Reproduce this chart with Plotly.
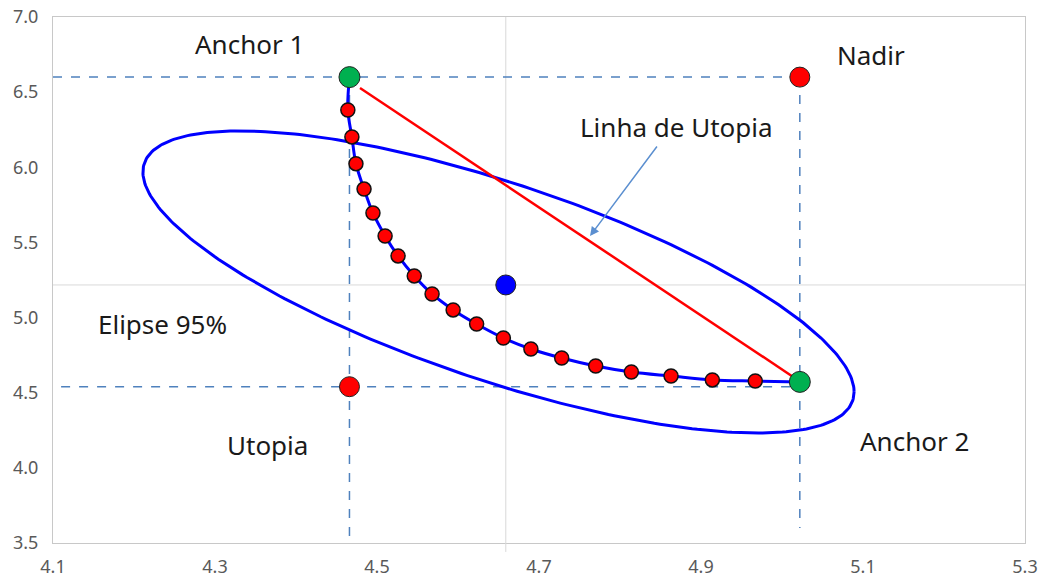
import numpy as np
import plotly.graph_objects as go

# ---------------- data ----------------
x_range = [4.1, 5.3]
y_range = [3.5, 7.0]
x_ticks = [4.1, 4.3, 4.5, 4.7, 4.9, 5.1, 5.3]
y_ticks = [3.5, 4.0, 4.5, 5.0, 5.5, 6.0, 6.5, 7.0]

anchor1 = [4.466, 6.600]
anchor2 = [5.022, 4.572]
nadir = [5.022, 6.600]
utopia = [4.466, 4.540]
center = [4.659, 5.217]

pareto_x = [4.464, 4.469, 4.474, 4.484, 4.495, 4.510, 4.526, 4.546, 4.568, 4.594,
            4.623, 4.656, 4.690, 4.728, 4.770, 4.814, 4.863, 4.914, 4.967]
pareto_y = [6.381, 6.202, 6.024, 5.855, 5.696, 5.543, 5.410, 5.277, 5.157, 5.051,
            4.957, 4.864, 4.791, 4.731, 4.678, 4.638, 4.611, 4.585, 4.578]

utopia_line_x = [4.479, 5.018]
utopia_line_y = [6.528, 4.590]

# 95% ellipse parameters (centre, semi-extents, phase)
ell_cx, ell_cy = 4.650, 5.237
ell_rx, ell_ry = 0.439, 1.005
ell_phase = 0.756

dash_left_x = 4.11
dash_bottom_y = 3.6

# ---------------- figure ----------------
fig = go.Figure()

dash_color = "#4f81bd"
dash_style = dict(color=dash_color, width=1.5, dash="dash")

fig.add_trace(go.Scatter(x=[x_range[0], nadir[0]], y=[anchor1[1], nadir[1]], mode="lines",
                         line=dash_style, hoverinfo="skip"))
fig.add_trace(go.Scatter(x=[dash_left_x, anchor2[0]], y=[utopia[1], utopia[1]], mode="lines",
                         line=dash_style, hoverinfo="skip"))
fig.add_trace(go.Scatter(x=[anchor1[0], anchor1[0]], y=[anchor1[1], y_range[0]], mode="lines",
                         line=dash_style, hoverinfo="skip"))
fig.add_trace(go.Scatter(x=[nadir[0], nadir[0]], y=[nadir[1], dash_bottom_y], mode="lines",
                         line=dash_style, hoverinfo="skip"))

# ellipse
t = np.linspace(0, 2 * np.pi, 361)
ex = ell_cx + ell_rx * np.cos(t)
ey = ell_cy - ell_ry * np.cos(t - ell_phase)
fig.add_trace(go.Scatter(x=ex, y=ey, mode="lines", line=dict(color="#0000ff", width=3),
                         hoverinfo="skip"))

# utopia line
fig.add_trace(go.Scatter(x=utopia_line_x, y=utopia_line_y, mode="lines",
                         line=dict(color="#ff0000", width=2.5), hoverinfo="skip"))

# pareto curve
curve_x = [anchor1[0]] + pareto_x + [anchor2[0]]
curve_y = [anchor1[1]] + pareto_y + [anchor2[1]]
fig.add_trace(go.Scatter(x=curve_x, y=curve_y, mode="lines", line=dict(color="#0000ff", width=3, shape="spline"),
                         hoverinfo="skip"))
fig.add_trace(go.Scatter(x=pareto_x, y=pareto_y, mode="markers",
                         marker=dict(color="#ff0000", size=14, line=dict(color="#111111", width=1.5))))

# special points
fig.add_trace(go.Scatter(x=[nadir[0], utopia[0]], y=[nadir[1], utopia[1]], mode="markers",
                         marker=dict(color="#ff0000", size=20, line=dict(color="#222222", width=1))))
fig.add_trace(go.Scatter(x=[anchor1[0], anchor2[0]], y=[anchor1[1], anchor2[1]], mode="markers",
                         marker=dict(color="#00b050", size=21, line=dict(color="#222222", width=1))))
fig.add_trace(go.Scatter(x=[center[0]], y=[center[1]], mode="markers",
                         marker=dict(color="#0000ff", size=20, line=dict(color="#222222", width=1))))

# crosshair through centre
fig.add_shape(type="line", xref="x", yref="y", x0=center[0], x1=center[0], y0=y_range[0], y1=y_range[1],
              line=dict(color="#d9d9d9", width=1), layer="below")
fig.add_shape(type="line", xref="x", yref="y", x0=x_range[0], x1=x_range[1], y0=center[1], y1=center[1],
              line=dict(color="#d9d9d9", width=1), layer="below")
fig.add_shape(type="line", xref="x", yref="paper", x0=center[0], x1=center[0], y0=0, y1=-0.017,
              line=dict(color="#d9d9d9", width=1))

font_txt = dict(family="Noto Sans", size=26, color="#1a1a1a")
labels = [
    ("Anchor 1", 4.342, 6.820),
    ("Nadir", 5.110, 6.750),
    ("Linha de Utopia", 4.870, 6.270),
    ("Elipse 95%", 4.235, 4.955),
    ("Utopia", 4.365, 4.150),
    ("Anchor 2", 5.163, 4.180),
]
for txt, lx, ly in labels:
    fig.add_annotation(x=lx, y=ly, text=txt, showarrow=False, font=font_txt)

fig.add_annotation(x=4.763, y=5.543, ax=4.847, ay=6.148, axref="x", ayref="y", text="",
                   showarrow=True, arrowhead=2, arrowsize=1.2, arrowwidth=1.5, arrowcolor="#5b8fd0")

fig.update_layout(
    width=1044, height=581,
    margin=dict(l=53, r=19, t=17, b=38, autoexpand=False),
    plot_bgcolor="white", paper_bgcolor="white",
    showlegend=False,
    xaxis=dict(range=x_range, tickvals=x_ticks, ticktext=[f"{v:.1f}" for v in x_ticks],
               showgrid=False, zeroline=False, showline=True, mirror=True, linecolor="#c8c8c8",
               linewidth=1, ticks="", ticklabelstandoff=7, automargin=False, ticklabeloverflow="allow",
               tickfont=dict(family="Noto Sans", size=18, color="#595959")),
    yaxis=dict(range=y_range, tickvals=y_ticks, ticktext=[f"{v:.1f}" for v in y_ticks],
               showgrid=False, zeroline=False, showline=True, mirror=True, linecolor="#c8c8c8",
               linewidth=1, ticks="", ticklabelstandoff=10, automargin=False, ticklabeloverflow="allow",
               tickfont=dict(family="Noto Sans", size=18, color="#595959")),
)

fig.write_html("out.html", config={"displayModeBar": False},
               post_script="document.body.style.margin='0';document.body.style.overflow='hidden';")
